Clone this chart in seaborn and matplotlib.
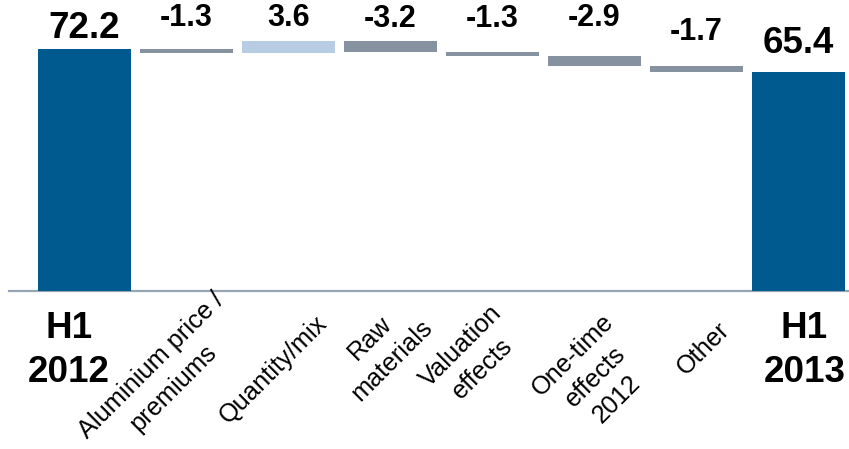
import matplotlib
matplotlib.use("Agg")
import matplotlib.pyplot as plt
import matplotlib.transforms as mtransforms
import seaborn as sns
import pandas as pd
import numpy as np

# ---- data ----
categories = ["H1\n2012", "Aluminium price /\npremiums", "Quantity/mix", "Raw\nmaterials",
              "Valuation\neffects", "One-time\neffects\n2012", "Other", "H1\n2013"]
values = [72.2, -1.3, 3.6, -3.2, -1.3, -2.9, -1.7, 65.4]
is_total = [True, False, False, False, False, False, False, True]
value_labels = ["72.2", "-1.3", "3.6", "-3.2", "-1.3", "-2.9", "-1.7", "65.4"]

# ---- layout / style ----
label_offsets = [3.2, 6.9, 4.6, 4.3, 7.5, 9.1, 7.8, 5.5]   # value label baseline above bar top
cat_dx = [-0.152, -0.25, -0.16, -0.11, -0.22, -0.01, 0.05, 0.059]  # label shift (category units)
cat_dy = [-0.3127, -0.29, -0.266, -0.195, -0.223, -0.29, -0.191, -0.3127]  # label y (axes units)
BLUE = "#005A8F"
GREY = "#8692A0"
LIGHT = "#B8CCE4"
AXIS = "#97A4B2"
TOTAL_FS = 26.5
ROT_FS = 18.3
TOTAL_LINE_PX = 43.5     # baseline-to-baseline, pixels
ROT_LINE_PX = 31.0
ROT_MID_PX = 0.36 * ROT_FS * 100 / 72   # baseline to ink middle

# waterfall geometry
bottoms, heights, tops, colors = [], [], [], []
running = 0.0
for v, tot in zip(values, is_total):
    if tot:
        bottoms.append(0.0); heights.append(v); tops.append(v); colors.append(BLUE)
        running = v
    else:
        new = running + v
        bottoms.append(min(running, new)); heights.append(abs(v)); tops.append(max(running, new))
        colors.append(GREY if v < 0 else LIGHT)
        running = new

df = pd.DataFrame({"cat": categories, "height": heights})

sns.set_theme(style="white")
plt.rcParams["font.family"] = ["Liberation Sans", "DejaVu Sans"]

fig = plt.figure(figsize=(8.49, 4.49), dpi=100)
ax = fig.add_axes([9 / 849, 158 / 449, 840 / 849, 291 / 449])

sns.barplot(data=df, x="cat", y="height", hue="cat", palette=colors, order=categories,
            hue_order=categories, width=0.912, legend=False, saturation=1, ax=ax)

for container, b in zip(ax.containers, bottoms):
    for patch in container:
        patch.set_y(b)
        patch.set_edgecolor("none")

ax.set_xlim(-0.74, 7.495)
ax.set_ylim(0, 86.8)
ax.set_xlabel(""); ax.set_ylabel("")
ax.set_yticks([])
ax.set_xticks([])
for s in ["left", "right", "top"]:
    ax.spines[s].set_visible(False)
ax.spines["bottom"].set_color(AXIS)
ax.spines["bottom"].set_linewidth(1.6)
ax.spines["bottom"].set_zorder(0)

# value labels
for i, (lab, top, off, tot) in enumerate(zip(value_labels, tops, label_offsets, is_total)):
    ax.text(i, top + off, lab, ha="center", va="baseline", fontweight="bold",
            fontsize=TOTAL_FS if tot else 22, color="black")

# category labels (one text per line for exact spacing)
trans = mtransforms.blended_transform_factory(ax.transData, ax.transAxes)
up = np.array([-np.sin(np.pi / 4), np.cos(np.pi / 4)])   # text-frame "up" for 45 deg
for i, (cat, tot) in enumerate(zip(categories, is_total)):
    lines = cat.split("\n")
    n = len(lines)
    if tot:
        for k, line in enumerate(lines):
            dy_px = (n - 1 - k) * TOTAL_LINE_PX
            t = trans + mtransforms.ScaledTranslation(0, dy_px / 100, fig.dpi_scale_trans)
            ax.text(i + cat_dx[i], cat_dy[i], line, transform=t, ha="center", va="baseline",
                    fontsize=TOTAL_FS, fontweight="bold", color="black")
    else:
        for k, line in enumerate(lines):
            yk = ((n - 1) / 2 - k) * ROT_LINE_PX - ROT_MID_PX
            off = yk * up
            t = trans + mtransforms.ScaledTranslation(off[0] / 100, off[1] / 100, fig.dpi_scale_trans)
            ax.text(i + cat_dx[i], cat_dy[i], line, transform=t, ha="center", va="baseline",
                    rotation=45, rotation_mode="anchor",
                    fontsize=ROT_FS, color="black")

fig.savefig("out.png", dpi=100)
